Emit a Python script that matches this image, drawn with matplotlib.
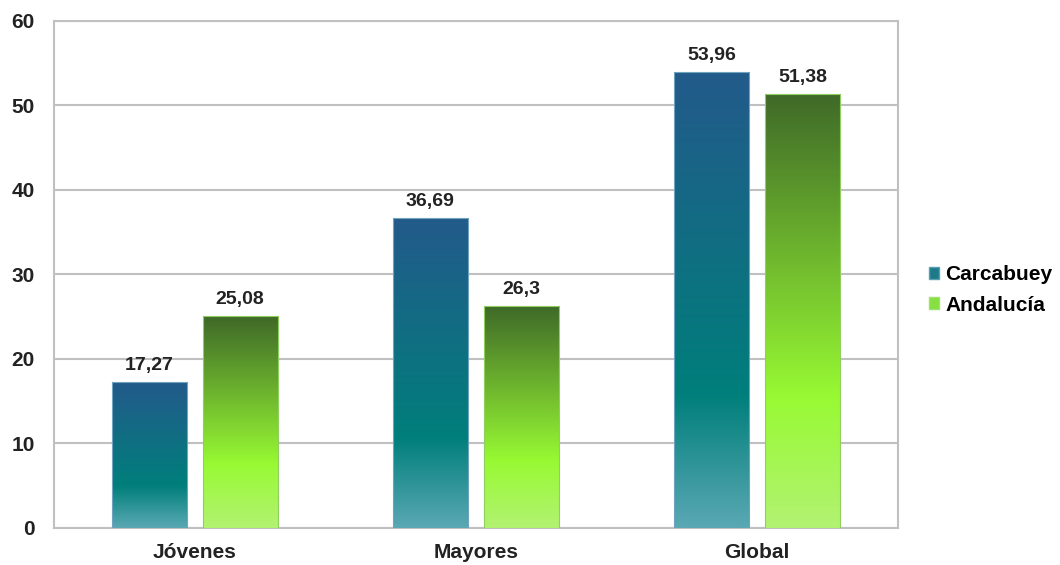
import matplotlib.pyplot as plt
import numpy as np
from matplotlib.colors import LinearSegmentedColormap
from matplotlib.patches import Rectangle

plt.rcParams['font.family'] = ['Liberation Sans', 'DejaVu Sans']

categories = ['Jóvenes', 'Mayores', 'Global']
carcabuey = [17.27, 36.69, 53.96]
andalucia = [25.08, 26.3, 51.38]
value_labels_c = ['17,27', '36,69', '53,96']
value_labels_a = ['25,08', '26,3', '51,38']

# gradient colours from bottom to top
blue_cmap = LinearSegmentedColormap.from_list(
    'blue', [(0, '#5aa8b3'), (0.29, '#007f7b'), (1, '#235a8b')])
green_cmap = LinearSegmentedColormap.from_list(
    'green', [(0, '#b2f272'), (0.30, '#98fa33'), (1, '#3f6928')])

fig = plt.figure(figsize=(10.6, 5.65), dpi=100)
ax = fig.add_axes([0.051, 0.0655, 0.796, 0.8975])

width = 0.267
offset = 0.162
x = np.arange(len(categories))

grad = np.linspace(0, 1, 256).reshape(-1, 1)


def gradient_bar(xc, h, cmap, edge):
    x0 = xc - width / 2
    rect = Rectangle((x0, 0), width, h, facecolor='none', edgecolor=edge,
                     linewidth=0.8, zorder=4)
    ax.add_patch(rect)
    im = ax.imshow(grad, cmap=cmap, aspect='auto', origin='lower',
                   extent=(x0, x0 + width, 0, h), zorder=3)
    im.set_clip_path(rect)


for i in range(len(categories)):
    gradient_bar(x[i] - offset, carcabuey[i], blue_cmap, '#6fa3c0')
    gradient_bar(x[i] + offset, andalucia[i], green_cmap, '#8fcf60')
    ax.text(x[i] - offset, carcabuey[i] + 0.9, value_labels_c[i], ha='center',
            va='bottom', fontsize=14, fontweight='bold', color='#222222')
    ax.text(x[i] + offset, andalucia[i] + 0.9, value_labels_a[i], ha='center',
            va='bottom', fontsize=14, fontweight='bold', color='#222222')

ax.set_xlim(-0.5, 2.5)
ax.set_ylim(0, 60)
ax.set_yticks(range(0, 61, 10))
ax.set_xticks(x)
ax.set_xticklabels(categories)
ax.tick_params(axis='both', length=0, labelsize=15, colors='#222222')
ax.tick_params(axis='y', pad=14)
ax.tick_params(axis='x', pad=11)
for lbl in ax.get_xticklabels() + ax.get_yticklabels():
    lbl.set_fontweight('bold')
ax.grid(axis='y', color='#c0c0c0', linewidth=1.5, zorder=0)
ax.set_axisbelow(True)
for s in ax.spines.values():
    s.set_color('#c0c0c0')
    s.set_linewidth(1.5)

handles = [Rectangle((0, 0), 1, 1, facecolor='#1c7a8a', edgecolor='#5aa0b0'),
           Rectangle((0, 0), 1, 1, facecolor='#86e040', edgecolor='#a0e070')]
fig.legend(handles, ['Carcabuey', 'Andalucía'], loc='center left',
           bbox_to_anchor=(0.876, 0.487), frameon=False, handlelength=0.5,
           handleheight=0.5, handletextpad=0.3, labelspacing=0.55,
           borderpad=0, borderaxespad=0,
           prop={'size': 15, 'weight': 'bold'})

fig.savefig('out.png', dpi=100)
